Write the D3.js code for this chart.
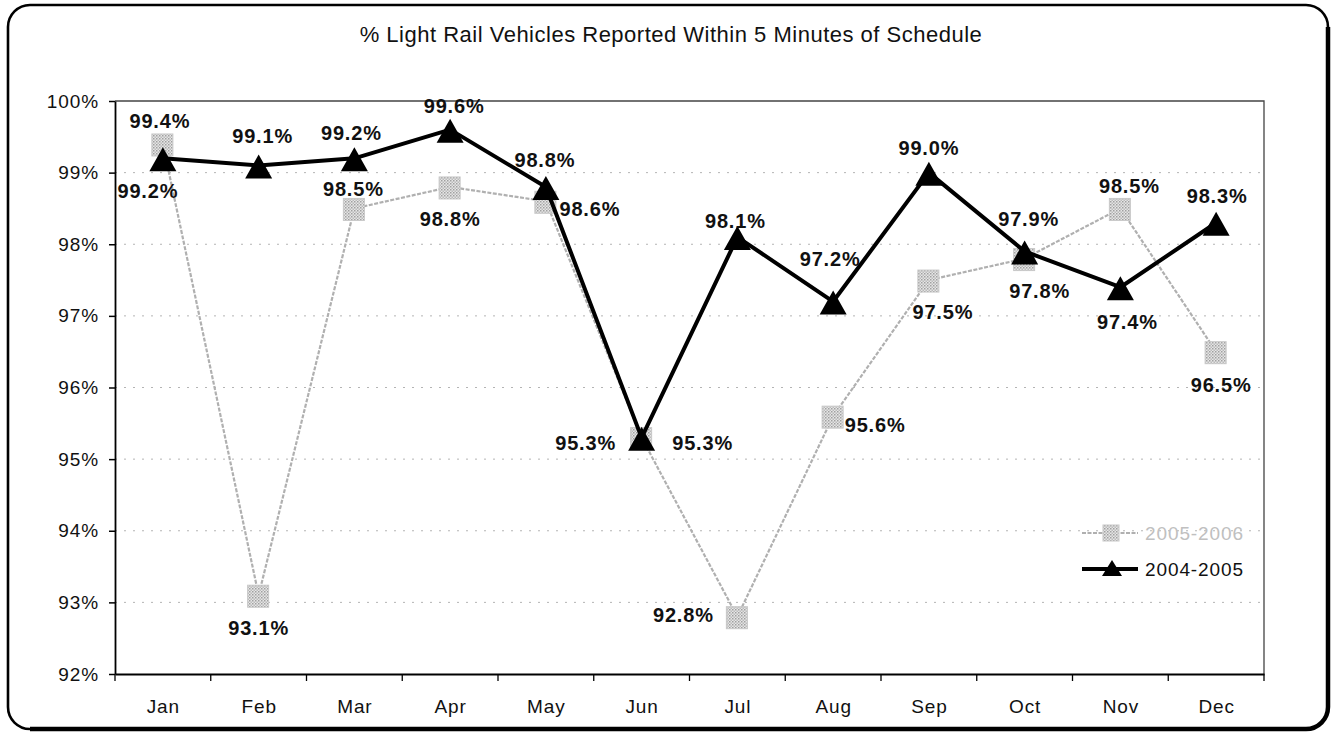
<!DOCTYPE html>
<html><head><meta charset="utf-8">
<script src="https://cdn.jsdelivr.net/npm/d3@7"></script>
<style>body{margin:0;background:#fff} text{font-family:"Liberation Sans",Arial,sans-serif}</style>
</head><body><svg id="c" width="1335" height="736"></svg>
<script>
const chartTitle = "% Light Rail Vehicles Reported Within 5 Minutes of Schedule";
const months = ["Jan","Feb","Mar","Apr","May","Jun","Jul","Aug","Sep","Oct","Nov","Dec"];
const values0506 = [99.4, 93.1, 98.5, 98.8, 98.6, 95.3, 92.8, 95.6, 97.5, 97.8, 98.5, 96.5];
const values0405 = [99.2, 99.1, 99.2, 99.6, 98.8, 95.3, 98.1, 97.2, 99.0, 97.9, 97.4, 98.3];
const seriesNames = ["2005-2006", "2004-2005"];
const yTicks = [92, 93, 94, 95, 96, 97, 98, 99, 100];

// label placement (layout only): offset of label centre from its point
const labelOffset0506 = [[-3,-23],[0,32],[-1,-20],[0,32],[44,7],[61,5],[-54,-2],[42,8],[14,31],[15,32],[9,-23],[5,33]];
const labelOffset0405 = [[-15,32],[4,-30],[-3,-26],[4,-24],[-1,-27],[-56,5],[-2,-17],[-3,-43],[0,-25],[4,-33],[7,34],[1,-27]];

const svg = d3.select("#c");
const L = 115, R = 1264, T = 101, B = 674;

// frame
svg.append("rect").attr("x",8).attr("y",5).attr("width",1320).attr("height",724)
  .attr("rx",22).attr("ry",22).attr("fill","none").attr("stroke","#000").attr("stroke-width",2.6);
svg.append("path").attr("d","M1328,27 L1328,707 A22,22 0 0 1 1306,729 L30,729")
  .attr("fill","none").attr("stroke","#000").attr("stroke-width",4.5);

// title
svg.append("text").attr("x",671).attr("y",42).attr("text-anchor","middle")
  .attr("font-size",22).attr("letter-spacing",0.5).attr("fill","#111").text(chartTitle);

const x = d3.scalePoint().domain(months).range([L, R]).padding(0.5);
const xb = d3.scaleBand().domain(months).range([L, R]);
const y = d3.scaleLinear().domain([92, 100]).range([B, T]);

// pattern for grey squares
const defs = svg.append("defs");
const pat = defs.append("pattern").attr("id","dots").attr("width",3).attr("height",3).attr("patternUnits","userSpaceOnUse");
pat.append("rect").attr("width",3).attr("height",3).attr("fill","#e6e6e6");
pat.append("rect").attr("width",1.5).attr("height",1.5).attr("fill","#a0a0a0");
pat.append("rect").attr("x",1.5).attr("y",1.5).attr("width",1.5).attr("height",1.5).attr("fill","#bbbbbb");

// gridlines
svg.append("g").selectAll("line").data(yTicks.slice(1, -1)).join("line")
  .attr("x1", L).attr("x2", R).attr("y1", d => y(d)).attr("y2", d => y(d))
  .attr("stroke", "#b4b4b4").attr("stroke-width", 1).attr("stroke-dasharray", "2,7");

// plot frame top/right
svg.append("path").attr("d", `M${L},${T} L${R},${T} L${R},${B}`)
  .attr("fill","none").attr("stroke","#444").attr("stroke-width",1.3);

// y axis
const ya = svg.append("g").attr("transform", `translate(${L},0)`)
  .call(d3.axisLeft(y).tickValues(yTicks).tickFormat(d => d + "%").tickSize(6).tickPadding(10).tickSizeOuter(0));
ya.select(".domain").attr("stroke","#000").attr("stroke-width",1.8);
ya.selectAll(".tick line").attr("stroke","#000").attr("stroke-width",1.5);
ya.selectAll("text").attr("font-size",19).attr("letter-spacing",0.9).attr("fill","#111")
  .attr("font-family","Liberation Sans, Arial, sans-serif");

// x axis
const xa = svg.append("g").attr("transform", `translate(0,${B})`)
  .call(d3.axisBottom(x).tickSize(0).tickSizeOuter(0));
xa.select(".domain").attr("stroke","#000").attr("stroke-width",2);
xa.selectAll("text").attr("y", 39).attr("dy", 0).attr("font-size",19).attr("letter-spacing",0.9)
  .attr("fill","#111").attr("font-family","Liberation Sans, Arial, sans-serif");
const edges = months.map(m => xb(m)).concat([xb(months[months.length-1]) + xb.bandwidth()]);
svg.append("g").selectAll("line").data(edges).join("line")
  .attr("x1", d => d).attr("x2", d => d).attr("y1", B).attr("y2", B + 7)
  .attr("stroke","#000").attr("stroke-width",1.3);

const line = d3.line().x((d, i) => x(months[i])).y(d => y(d));
const grey = "#b0b0b0";

// series 2005-2006
svg.append("path").datum(values0506).attr("d", line).attr("fill","none")
  .attr("stroke", grey).attr("stroke-width", 2.2).attr("stroke-dasharray","4,1.5");
svg.append("g").selectAll("rect").data(values0506).join("rect")
  .attr("x", (d, i) => x(months[i]) - 11).attr("y", d => y(d) - 10)
  .attr("width", 21).attr("height", 22).attr("fill", "url(#dots)").attr("stroke","#c8c8c8").attr("stroke-width",1);

// series 2004-2005
svg.append("path").datum(values0405).attr("d", line).attr("fill","none")
  .attr("stroke", "#000").attr("stroke-width", 4).attr("stroke-linejoin","round");
const tri = "M0,-11 L13.5,13 L-13.5,13 Z";
svg.append("g").selectAll("path").data(values0405).join("path")
  .attr("d", tri).attr("transform", (d, i) => `translate(${x(months[i])},${y(d)})`).attr("fill","#000");

// labels
function labels(vals, offs) {
  svg.append("g").selectAll("text").data(vals).join("text")
    .attr("x", (d, i) => x(months[i]) + offs[i][0])
    .attr("y", (d, i) => y(d) + offs[i][1] + 7.5)
    .attr("text-anchor","middle").attr("font-size",20).attr("font-weight","bold")
    .attr("letter-spacing",0.8).attr("fill","#111")
    .text(d => d.toFixed(1) + "%");
}
labels(values0506, labelOffset0506);
labels(values0405, labelOffset0405);

// legend
const lg = svg.append("g");
const lgY = [533, 569];
lg.append("line").attr("x1",1082).attr("x2",1138).attr("y1",lgY[0]).attr("y2",lgY[0])
  .attr("stroke",grey).attr("stroke-width",2.2).attr("stroke-dasharray","4,1.5");
lg.append("rect").attr("x",1103).attr("y",lgY[0]-8).attr("width",16).attr("height",16)
  .attr("fill","url(#dots)").attr("stroke","#c8c8c8");
lg.append("text").attr("x",1145).attr("y",lgY[0]+7).attr("font-size",19).attr("letter-spacing",0.9)
  .attr("fill","#c0c0c0").text(seriesNames[0]);
lg.append("line").attr("x1",1082).attr("x2",1138).attr("y1",lgY[1]).attr("y2",lgY[1])
  .attr("stroke","#000").attr("stroke-width",4);
lg.append("path").attr("d","M0,-9 L10,7 L-10,7 Z").attr("transform",`translate(1112,${lgY[1]})`).attr("fill","#000");
lg.append("text").attr("x",1145).attr("y",lgY[1]+7).attr("font-size",19).attr("letter-spacing",0.9)
  .attr("fill","#111").text(seriesNames[1]);
</script>
</body></html>
